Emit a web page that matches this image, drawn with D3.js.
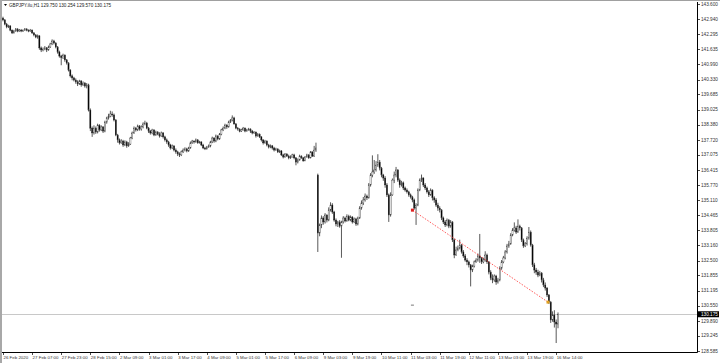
<!DOCTYPE html>
<html>
<head>
<meta charset="utf-8">
<script src="https://cdn.jsdelivr.net/npm/d3@7"></script>
<style>
  body { margin: 0; background: #fff; }
  svg { display: block; }
  text { font-family: "Liberation Sans", Arial, sans-serif; }
</style>
</head>
<body>
<div id="chart"></div>
<script>
const width = 720;
const height = 363;

// GBPJPY H1, one entry per hourly bar (open = previous close, except gap opens)
const symbolTitle = "GBPJPY.ilu,H1";
const lastQuote = ["129.750", "130.254", "129.570", "130.175"];
const firstOpen = 142.99;
const gapOpens = [[173, 136.20]];

const closes = [
  142.91,142.73,142.61,142.65,142.47,142.35,142.43,142.52,142.43,142.47,
  142.43,142.47,142.52,142.47,142.43,142.47,142.35,142.26,142.17,142.22,
  141.70,141.61,141.65,141.70,141.61,141.74,141.87,142.00,141.91,141.74,
  141.52,141.35,141.28,141.39,141.18,141.05,140.74,140.49,140.40,140.31,
  140.23,140.14,140.27,140.10,140.18,140.05,140.10,
  139.01,138.23,138.02,
  138.23,138.06,138.36,138.15,138.28,138.10,
  138.49,138.67,138.75,138.84,138.80,
  138.58,137.93,137.72,
  137.59,137.67,137.50,137.63,137.46,137.54,
  137.80,138.02,138.23,138.15,138.32,138.19,
  138.28,138.41,138.45,138.23,138.10,
  138.02,138.15,137.93,138.06,137.97,137.89,138.02,137.85,137.72,
  137.63,137.50,137.37,137.46,137.28,137.20,137.11,137.07,
  137.20,137.28,137.33,137.24,137.37,
  137.59,137.67,137.63,137.72,137.59,137.63,
  137.50,137.37,137.33,137.41,137.46,
  137.63,137.80,137.67,137.89,137.76,137.97,
  138.15,138.23,138.36,138.28,138.49,138.58,
  138.67,138.41,138.23,
  138.19,138.10,138.15,138.23,138.10,138.15,138.19,
  138.10,138.02,138.06,137.89,137.97,137.85,
  137.72,137.59,137.67,137.50,137.41,137.46,137.37,137.28,137.33,
  137.20,137.24,137.07,136.98,137.11,137.02,136.94,136.98,137.07,136.94,
  136.76,136.85,137.02,136.94,136.81,136.98,
  137.07,136.94,137.20,137.02,137.28,137.37,
  133.69,
  134.04,134.34,134.17,134.47,134.25,
  134.69,134.90,134.60,
  134.25,134.08,134.17,133.99,
  134.17,134.34,134.21,134.42,134.25,
  134.38,134.17,134.30,134.08,134.34,
  134.77,134.99,135.12,135.29,135.21,
  135.77,136.20,136.33,136.42,136.63,
  136.76,136.50,136.20,
  136.07,135.77,135.34,134.47,
  135.34,135.98,136.20,136.42,
  135.98,135.77,135.86,135.64,135.55,
  135.47,135.34,135.25,135.12,134.77,
  134.90,135.55,135.98,136.07,
  135.77,135.64,135.47,135.34,135.55,
  135.21,135.12,134.90,134.77,134.69,
  134.34,134.17,134.04,134.25,133.99,134.17,
  133.39,132.74,132.96,133.04,
  133.17,132.87,132.70,132.52,132.44,132.31,
  132.09,132.26,132.44,132.52,
  132.70,132.61,132.44,132.52,132.74,132.44,
  132.00,131.74,131.66,131.83,131.57,131.66,
  132.17,132.44,132.61,132.87,133.13,133.22,
  133.60,133.82,133.91,133.73,133.99,133.91,
  133.39,133.13,133.22,
  133.47,133.73,133.17,
  132.31,132.09,132.00,131.87,131.96,
  131.66,131.44,131.31,131.01,130.70,
  129.93,130.14,129.84,129.75,130.175
];

const highs = [
  143.05,142.95,142.78,142.70,142.68,142.50,142.48,142.56,142.55,142.52,
  142.52,142.50,142.56,142.55,142.50,142.52,142.50,142.38,142.30,142.28,
  142.25,141.76,141.72,141.78,141.74,141.80,141.92,142.07,142.05,141.95,
  141.78,141.58,141.40,141.45,141.42,141.22,141.08,140.78,140.55,140.45,
  140.38,140.30,140.32,140.30,140.25,140.22,140.18,
  140.15,139.08,138.30,
  138.35,138.30,138.42,138.40,138.35,138.32,
  138.55,138.72,138.85,138.98,138.95,
  138.86,138.62,137.98,
  137.78,137.75,137.72,137.70,137.68,137.62,
  137.85,138.08,138.30,138.28,138.38,138.36,
  138.35,138.48,138.55,138.50,138.28,
  138.15,138.20,138.18,138.12,138.10,138.05,138.08,138.06,137.90,
  137.78,137.68,137.55,137.52,137.48,137.35,137.25,137.18,
  137.26,137.35,137.40,137.38,137.42,
  137.65,137.72,137.70,137.78,137.75,137.68,
  137.66,137.55,137.42,137.46,137.52,
  137.68,137.86,137.84,137.95,137.92,138.02,
  138.20,138.30,138.42,138.40,138.55,138.62,
  138.78,138.72,138.45,
  138.28,138.22,138.20,138.28,138.26,138.20,138.24,
  138.22,138.15,138.10,138.08,138.02,138.00,
  137.88,137.75,137.72,137.70,137.55,137.52,137.50,137.42,137.38,
  137.35,137.30,137.28,137.12,137.15,137.14,137.08,137.05,137.12,137.12,
  136.98,136.92,137.08,137.05,136.98,137.02,
  137.12,137.10,137.24,137.22,137.46,137.60,
  136.26,
  134.10,134.45,134.42,134.55,134.50,
  134.80,135.02,134.98,
  134.65,134.32,134.22,134.25,
  134.22,134.42,134.40,134.50,134.48,
  134.45,134.42,134.36,134.35,134.40,
  134.85,135.10,135.25,135.40,135.35,
  135.85,136.28,137.05,136.85,136.80,
  137.10,136.85,136.55,
  136.25,136.15,135.85,135.40,
  135.45,136.05,136.35,136.55,
  136.45,136.05,135.95,135.92,135.70,
  135.62,135.52,135.40,135.30,135.18,
  134.98,135.62,136.05,136.22,
  136.10,135.85,135.70,135.55,135.62,
  135.58,135.28,135.20,135.00,134.85,
  134.72,134.40,134.25,134.32,134.30,134.25,
  134.20,133.45,133.10,133.15,
  133.40,133.22,132.95,132.78,132.60,132.50,
  132.35,132.32,132.50,132.60,
  132.80,133.65,132.65,132.62,132.90,132.80,
  132.48,132.08,131.90,131.90,131.88,131.75,
  132.25,132.52,132.70,132.95,133.22,133.35,
  133.68,133.90,134.15,134.00,134.28,134.05,
  133.95,133.45,133.30,
  133.55,133.95,133.80,
  133.22,132.40,132.18,132.10,132.05,
  132.00,131.75,131.55,131.35,131.05,
  130.75,130.30,130.35,129.95,130.254
];

const lows = [
  142.85,142.68,142.55,142.56,142.42,142.30,142.32,142.40,142.38,142.40,
  142.38,142.39,142.44,142.42,142.38,142.40,142.30,142.20,142.12,142.10,
  141.62,141.52,141.55,141.60,141.52,141.58,141.70,141.82,141.85,141.68,
  141.45,141.28,140.95,141.22,141.10,140.98,140.68,140.42,140.30,140.25,
  140.15,140.05,140.10,140.02,140.05,139.98,139.95,
  138.95,138.10,137.85,
  137.95,137.98,138.00,138.08,138.10,138.02,
  138.05,138.42,138.60,138.70,138.72,
  138.52,137.88,137.60,
  137.52,137.55,137.42,137.45,137.38,137.42,
  137.50,137.75,137.98,138.08,138.10,138.12,
  138.12,138.22,138.35,138.18,138.02,
  137.95,137.96,137.88,137.90,137.92,137.82,137.85,137.78,137.65,
  137.55,137.42,137.30,137.32,137.22,137.12,137.02,136.98,
  137.02,137.15,137.22,137.18,137.20,
  137.34,137.55,137.56,137.60,137.55,137.56,
  137.45,137.32,137.28,137.30,137.38,
  137.40,137.58,137.60,137.62,137.70,137.72,
  137.92,138.10,138.18,138.20,138.25,138.45,
  138.52,138.38,138.18,
  138.12,138.05,138.06,138.12,138.05,138.08,138.12,
  138.02,137.96,137.98,137.82,137.86,137.80,
  137.65,137.52,137.55,137.44,137.35,137.36,137.30,137.22,137.25,
  137.15,137.15,137.02,136.92,136.95,136.98,136.88,136.90,136.96,136.88,
  136.62,136.70,136.82,136.90,136.78,136.80,
  136.95,136.90,136.92,136.98,136.98,137.20,
  132.87,
  133.55,133.90,134.05,134.10,134.15,
  134.20,134.62,134.52,
  134.18,133.98,133.95,133.92,
  132.62,134.10,134.15,134.18,134.20,
  134.20,134.10,134.12,134.00,134.02,
  134.30,134.70,134.90,135.05,135.12,
  135.18,135.70,136.10,136.25,136.35,
  136.55,136.40,136.10,
  135.95,135.65,135.25,134.17,
  134.40,135.30,135.85,136.10,
  135.90,135.65,135.70,135.55,135.48,
  135.40,135.26,135.18,135.02,134.70,
  134.04,134.85,135.50,135.90,
  135.68,135.55,135.40,135.25,135.30,
  135.10,135.00,134.82,134.65,134.58,
  134.25,134.08,133.95,133.98,133.90,133.92,
  133.30,132.60,132.70,132.90,
  132.98,132.80,132.62,132.45,132.30,132.20,
  131.38,132.00,132.20,132.40,
  132.45,132.40,132.35,132.38,132.45,132.35,
  131.90,131.65,131.52,131.58,131.45,131.50,
  131.60,132.10,132.38,132.55,132.80,133.05,
  133.18,133.55,133.75,133.65,133.70,133.80,
  133.30,133.05,133.08,
  133.15,133.40,133.10,
  132.22,131.95,131.88,131.78,131.82,
  131.55,131.35,131.20,130.92,130.62,
  129.80,129.85,129.60,128.93,129.57
];

const priceTicks = [143.600,142.940,142.295,141.635,140.990,140.330,139.685,139.025,
  138.380,137.720,137.075,136.415,135.770,135.110,134.465,133.805,133.160,
  132.500,131.855,131.195,130.550,129.890,129.245,128.585];

const timeLabels = ["26 Feb 2020","27 Feb 07:00","27 Feb 23:00","28 Feb 15:00",
  "2 Mar 09:00","3 Mar 01:00","3 Mar 17:00","4 Mar 09:00","5 Mar 01:00",
  "5 Mar 17:00","6 Mar 09:00","9 Mar 03:00","9 Mar 19:00","10 Mar 11:00",
  "11 Mar 03:00","11 Mar 19:00","12 Mar 11:00","13 Mar 03:00","13 Mar 19:00",
  "16 Mar 14:00"];
const labelStep = 16; // bars between time labels

const currentPrice = 130.175;
const trendLine = [[225, 134.68], [299.5, 130.70]];
const smallMark = [225, 130.57];

// layout
const plot = { left: 2, right: 697, top: 2, bottom: 352 };

const svg = d3.select("#chart").append("svg")
  .attr("width", width).attr("height", height);

svg.append("rect").attr("width", width).attr("height", height).attr("fill", "#fff");
// window frame
svg.append("line").attr("x1", 0).attr("x2", width).attr("y1", 0.5).attr("y2", 0.5)
  .attr("stroke", "#a0a0a0");
svg.append("rect").attr("x", 0).attr("y", 0).attr("width", 2).attr("height", height)
  .attr("fill", "#a8a8a8");

const nBars = Math.min(closes.length, highs.length, lows.length);
const x = d3.scaleLinear().domain([0, 305]).range([3, 558]);
const y = d3.scaleLinear().domain([128.585, 143.600]).range([351, 4]);

const gapMap = new Map(gapOpens);
const bars = d3.range(nBars).map(i => {
  const o = i === 0 ? firstOpen : (gapMap.has(i) ? gapMap.get(i) : closes[i - 1]);
  return { i, o, h: highs[i], l: lows[i], c: closes[i] };
});

// current price line
svg.append("line")
  .attr("x1", plot.left).attr("x2", plot.right)
  .attr("y1", Math.round(y(currentPrice)) + 0.5).attr("y2", Math.round(y(currentPrice)) + 0.5)
  .attr("stroke", "#c8c8c8");

// axes frame
svg.append("line").attr("x1", plot.right + 0.5).attr("x2", plot.right + 0.5)
  .attr("y1", plot.top).attr("y2", plot.bottom + 0.5).attr("stroke", "#000");
svg.append("line").attr("x1", plot.left).attr("x2", plot.right + 0.5)
  .attr("y1", plot.bottom + 0.5).attr("y2", plot.bottom + 0.5).attr("stroke", "#000");

// candles
const candles = svg.append("g");
candles.selectAll("line.wick")
  .data(bars)
  .join("line")
  .attr("class", "wick")
  .attr("x1", d => x(d.i)).attr("x2", d => x(d.i))
  .attr("y1", d => y(Math.max(d.h, d.o, d.c)))
  .attr("y2", d => y(Math.min(d.l, d.o, d.c)))
  .attr("stroke", "#222")
  .attr("stroke-width", 0.75);

candles.selectAll("rect.body")
  .data(bars)
  .join("rect")
  .attr("class", "body")
  .attr("x", d => x(d.i) - 0.6)
  .attr("width", 1.2)
  .attr("y", d => y(Math.max(d.o, d.c)))
  .attr("height", d => Math.max(0.5, Math.abs(y(d.o) - y(d.c))))
  .attr("fill", d => d.c >= d.o ? "#fff" : "#000")
  .attr("stroke", "#333")
  .attr("stroke-width", 0.35);

// trend line
svg.append("line")
  .attr("x1", x(trendLine[0][0])).attr("y1", y(trendLine[0][1]))
  .attr("x2", x(trendLine[1][0])).attr("y2", y(trendLine[1][1]))
  .attr("stroke", "#ff3030").attr("stroke-width", 0.8)
  .attr("stroke-dasharray", "1.5,1.5");
svg.append("rect").attr("x", x(trendLine[0][0]) - 1.5).attr("y", y(trendLine[0][1]) - 1.5)
  .attr("width", 3).attr("height", 3).attr("fill", "#e02020");
svg.append("rect").attr("x", x(trendLine[1][0]) - 1.5).attr("y", y(trendLine[1][1]) - 1.5)
  .attr("width", 3).attr("height", 3).attr("fill", "#e0a020");

svg.append("line")
  .attr("x1", x(smallMark[0]) - 1.5).attr("x2", x(smallMark[0]) + 1.5)
  .attr("y1", y(smallMark[1])).attr("y2", y(smallMark[1]))
  .attr("stroke", "#555").attr("stroke-width", 0.8);

// price axis
const yAxis = svg.append("g");
yAxis.selectAll("line")
  .data(priceTicks)
  .join("line")
  .attr("x1", plot.right).attr("x2", plot.right + 3)
  .attr("y1", d => Math.round(y(d)) + 0.5).attr("y2", d => Math.round(y(d)) + 0.5)
  .attr("stroke", "#000").attr("stroke-width", 0.7);
yAxis.selectAll("text")
  .data(priceTicks)
  .join("text")
  .attr("x", plot.right + 4)
  .attr("y", d => y(d) + 1.7)
  .attr("font-size", 4.7)
  .attr("fill", "#333")
  .text(d => d.toFixed(3));

// current price tag
const cpY = y(currentPrice);
svg.append("rect").attr("x", plot.right + 1).attr("y", cpY - 3)
  .attr("width", 21).attr("height", 6).attr("fill", "#000");
svg.append("text").attr("x", plot.right + 4).attr("y", cpY + 1.7)
  .attr("font-size", 4.7).attr("fill", "#fff").text(currentPrice.toFixed(3));

// time axis
const xAxis = svg.append("g");
xAxis.selectAll("line")
  .data(timeLabels)
  .join("line")
  .attr("x1", (d, i) => Math.round(x(i * labelStep)) + 0.5)
  .attr("x2", (d, i) => Math.round(x(i * labelStep)) + 0.5)
  .attr("y1", plot.bottom).attr("y2", plot.bottom + 3)
  .attr("stroke", "#000").attr("stroke-width", 0.7);
xAxis.selectAll("text")
  .data(timeLabels)
  .join("text")
  .attr("x", (d, i) => x(i * labelStep) + 0.5)
  .attr("y", 359)
  .attr("font-size", 4.4)
  .attr("fill", "#333")
  .text(d => d);

// header
svg.append("path").attr("d", "M4,4 L7,4 L5.5,6 Z").attr("fill", "#000");
svg.append("text")
  .attr("x", 9).attr("y", 7)
  .attr("font-size", 4.6)
  .attr("fill", "#222")
  .text(symbolTitle + "  " + lastQuote.join(" "));
</script>
</body>
</html>
